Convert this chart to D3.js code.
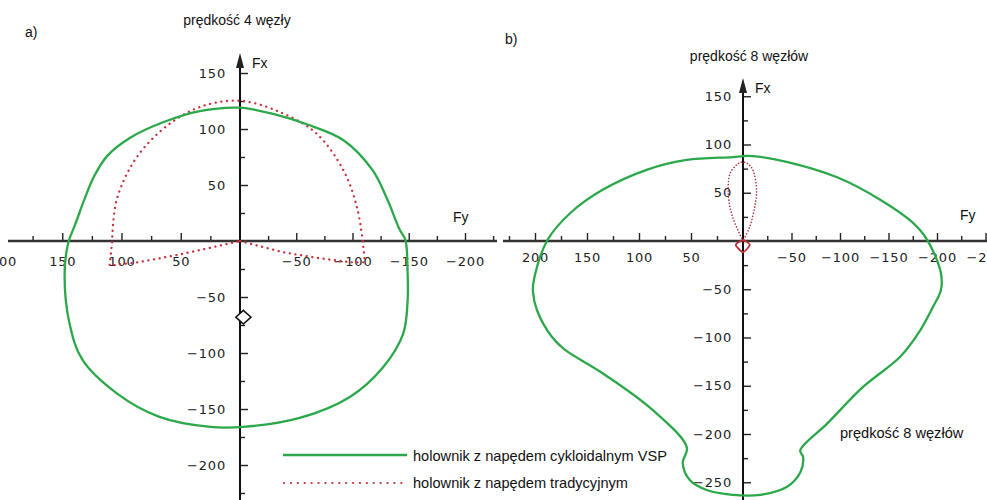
<!DOCTYPE html>
<html>
<head>
<meta charset="utf-8">
<script src="https://cdn.jsdelivr.net/npm/d3@7"></script>
<style>
  html, body { margin: 0; padding: 0; background: #fff; }
  svg { display: block; }
  .tick text { font-family: "DejaVu Sans", sans-serif; font-size: 13px; fill: #222; letter-spacing: 0.8px; }
  .lbl { font-family: "Liberation Sans", Arial, sans-serif; font-size: 14px; fill: #111; }
  .leg { font-size: 14.6px; }
</style>
</head>
<body>
<svg id="chart"></svg>
<script>
const W = 987, H = 500;

// [Fy, Fx] pary, odczytane z wykresu
// a) prędkość 4 węzły
const greenA = [[0,119],[34,116],[65,106],[93,92],[112,76],[123,58],[131,38],[139,15],[145,-2],
  [148,-29],[144,-73],[133,-106],[104,-136],[68,-157],[25,-166],[-3,-166],[-53,-158],[-98,-139],
  [-127,-113],[-145,-83],[-149,-53],[-149,-29],[-147,1],[-142,10],[-131,37],[-118,63],[-92,90],
  [-60,104],[-31,113]];
const redArcA = [[108,-1],[104,37],[87,75],[59,105],[30,121],[-2,125],[-38,114],[-68,96],
  [-92,63],[-104,30],[-109,1]];
const redLowLeftA = [[108,-1],[110,-22],[86,-19],[53,-12.5],[25,-6],[0,0]];
const redLowRightA = [[0,0],[-38,-10],[-68,-15],[-98,-19],[-111,-19],[-109,1]];
const markA = [-3, -68];

// b) prędkość 8 węzłów
const greenB = [[0,88],[10,87],[54,84],[92,74],[135,53],[166,29],[188,1],[201,-40],[202,-52],
  [198,-72],[184,-99],[172,-112],[135,-137],[87,-175],[54,-214],[58,-230],[51,-248],[35,-258],
  [10,-263],[-18,-263],[-45,-255],[-59,-240],[-62,-224],[-59,-217],[-87,-189],[-124,-151],
  [-162,-120],[-183,-92],[-196,-68],[-204,-51],[-204,-33],[-190,1],[-175,19],[-141,43],
  [-97,66],[-45,82],[-10,88]];
const redLoopB = [[0,0],[10,25],[14,46],[12.5,70],[6,79],[1,82],[-5,80],[-10,74],[-14,53],
  [-12,35],[-7,15],[0,0]];
const markB = [[0,1],[-7,-4],[0,-11.5],[7,-4]];

const fyTicksA = [200,150,100,50,-50,-100,-150,-200];
const fxTicksA = [150,100,50,-50,-100,-150,-200];
const fyTicksB = [200,150,100,50,-50,-100,-150,-200,-250];
const fxTicksB = [150,100,50,-50,-100,-150,-200,-250];

const titleA = "prędkość 4 węzły";
const titleB = "prędkość 8 węzłów";
const legendNames = ["holownik z napędem cykloidalnym VSP", "holownik z napędem tradycyjnym"];

const GREEN = "#2ba84a", RED = "#c8323a";

const svg = d3.select("#chart").attr("width", W).attr("height", H);
const fmt = d => d < 0 ? "\u2212" + Math.abs(d) : d;

function panel(o) {
  const x = d3.scaleLinear().domain([200, 0, -200]).range(o.xr);
  const y = d3.scaleLinear().domain([0, -100]).range([o.y0, o.y0 + o.ky * 100]);
  const g = svg.append("g");
  const ox = x(0), oy = y(0);

  // poziome podziałki
  const minor = d3.range(-250, 251, 25).filter(v => v % 50 !== 0 && x(v) > o.hx[0] && x(v) < o.hx[1]);
  const major = d3.range(-250, 251, 50).filter(v => v !== 0 && x(v) > o.hx[0] && x(v) < o.hx[1]);
  g.append("g").attr("transform", `translate(0,${oy})`)
    .call(d3.axisTop(x).tickValues(minor).tickSize(5).tickFormat(""))
    .call(a => a.select(".domain").remove());
  g.append("g").attr("transform", `translate(0,${oy})`)
    .call(d3.axisTop(x).tickValues(major).tickSize(8).tickFormat(""))
    .call(a => a.select(".domain").remove());
  g.append("g").attr("transform", `translate(0,${oy})`)
    .call(d3.axisBottom(x).tickValues(o.fyTicks).tickSize(0).tickPadding(o.fyPad).tickFormat(fmt))
    .call(a => a.select(".domain").remove());

  // pionowe podziałki
  const vminor = d3.range(-275, 176, 25).filter(v => v % 50 !== 0 && y(v) > o.vy[0] + 10 && y(v) < H);
  const vmajor = d3.range(-250, 176, 50).filter(v => v !== 0 && y(v) < H);
  g.append("g").attr("transform", `translate(${ox},0)`)
    .call(d3.axisRight(y).tickValues(vminor).tickSize(5).tickFormat(""))
    .call(a => a.select(".domain").remove());
  g.append("g").attr("transform", `translate(${ox},0)`)
    .call(d3.axisRight(y).tickValues(vmajor).tickSize(8).tickFormat(""))
    .call(a => a.select(".domain").remove());
  g.append("g").attr("transform", `translate(${ox},0)`)
    .call(d3.axisLeft(y).tickValues(o.fxTicks).tickSize(0).tickPadding(o.fxPad).tickFormat(fmt))
    .call(a => a.select(".domain").remove());
  g.selectAll(".tick line").attr("stroke", "#222").attr("stroke-width", 1.4);

  // osie
  g.append("line").attr("x1", o.hx[0]).attr("x2", o.hx[1]).attr("y1", oy).attr("y2", oy)
    .attr("stroke", "#333").attr("stroke-width", 2.4);
  g.append("line").attr("x1", ox).attr("x2", ox).attr("y1", o.vy[0] + 12).attr("y2", H)
    .attr("stroke", "#111").attr("stroke-width", 2);
  g.append("path")
    .attr("d", `M${ox},${o.vy[0]} L${ox + 4},${o.vy[0] + 15} L${ox - 4},${o.vy[0] + 15} Z`)
    .attr("fill", "#222");

  g.append("text").attr("class", "lbl").attr("x", ox + 12).attr("y", o.vy[0] + 15).text("Fx");
  g.append("text").attr("class", "lbl").attr("x", o.fyLab[0]).attr("y", o.fyLab[1]).text("Fy");

  const line = d3.line().x(d => x(d[0])).y(d => y(d[1]));
  return { g, x, y, line };
}

// ---- a)
const A = panel({ xr: [3, 240, 465], y0: 241, ky: 1.12, hx: [8, 497], vy: [53, H],
  fyTicks: fyTicksA, fxTicks: fxTicksA, fyPad: 16, fxPad: 14, fyLab: [453, 222] });

A.g.append("path").datum(redArcA)
  .attr("d", A.line.curve(d3.curveCatmullRom.alpha(0.5)))
  .attr("fill", "none").attr("stroke", RED).attr("stroke-width", 2.3)
  .attr("stroke-dasharray", "0.1 5.6").attr("stroke-linecap", "round");
[redLowLeftA, redLowRightA].forEach(seg => {
  A.g.append("path").datum(seg)
    .attr("d", A.line.curve(d3.curveLinear))
    .attr("fill", "none").attr("stroke", RED).attr("stroke-width", 2.3)
    .attr("stroke-dasharray", "0.1 5.6").attr("stroke-linecap", "round");
});
A.g.append("path").datum(greenA)
  .attr("d", A.line.curve(d3.curveCatmullRomClosed.alpha(0.5)))
  .attr("fill", "none").attr("stroke", GREEN).attr("stroke-width", 2.3);
A.g.append("path")
  .attr("d", d3.symbol(d3.symbolDiamond, 110)())
  .attr("transform", `translate(${A.x(markA[0])},${A.y(markA[1])}) scale(1.35,0.7)`)
  .attr("fill", "#fff").attr("stroke", "#111").attr("stroke-width", 1.5)
  .attr("vector-effect", "non-scaling-stroke");

// ---- b)
const B = panel({ xr: [535, 743, 937], y0: 241, ky: 0.965, hx: [503, W], vy: [78, H],
  fyTicks: fyTicksB, fxTicks: fxTicksB, fyPad: 12, fxPad: 11, fyLab: [960, 220] });

B.g.append("path").datum(redLoopB)
  .attr("d", B.line.curve(d3.curveCatmullRom.alpha(0.5)))
  .attr("fill", "none").attr("stroke", "#b8343c").attr("stroke-width", 1.6)
  .attr("stroke-dasharray", "0.1 3").attr("stroke-linecap", "round");
B.g.append("path").datum(markB)
  .attr("d", B.line.curve(d3.curveCardinalClosed.tension(0.3)))
  .attr("fill", "none").attr("stroke", "#c0303a").attr("stroke-width", 1.8);
B.g.append("path").datum(greenB)
  .attr("d", B.line.curve(d3.curveCatmullRomClosed.alpha(0.5)))
  .attr("fill", "none").attr("stroke", GREEN).attr("stroke-width", 2.3);

// ---- teksty
svg.append("text").attr("class", "lbl").attr("x", 25).attr("y", 37).text("a)");
svg.append("text").attr("class", "lbl").attr("x", 505).attr("y", 44).text("b)");
svg.append("text").attr("class", "lbl").attr("x", 237).attr("y", 25)
  .attr("text-anchor", "middle").text(titleA);
svg.append("text").attr("class", "lbl").attr("x", 749).attr("y", 61)
  .attr("text-anchor", "middle").text(titleB);
svg.append("text").attr("class", "lbl leg").attr("x", 840).attr("y", 438).text(titleB);

// ---- legenda
const leg = svg.append("g");
leg.append("line").attr("x1", 283).attr("x2", 407).attr("y1", 455).attr("y2", 455)
  .attr("stroke", GREEN).attr("stroke-width", 2.3);
leg.append("line").attr("x1", 284).attr("x2", 407).attr("y1", 483).attr("y2", 483)
  .attr("stroke", RED).attr("stroke-width", 2.2)
  .attr("stroke-dasharray", "0.1 6.8").attr("stroke-linecap", "round");
leg.selectAll("text.leg").data(legendNames).join("text")
  .attr("class", "lbl leg").attr("x", 413).attr("y", (d, i) => 461 + i * 27).text(d => d);
</script>
</body>
</html>
